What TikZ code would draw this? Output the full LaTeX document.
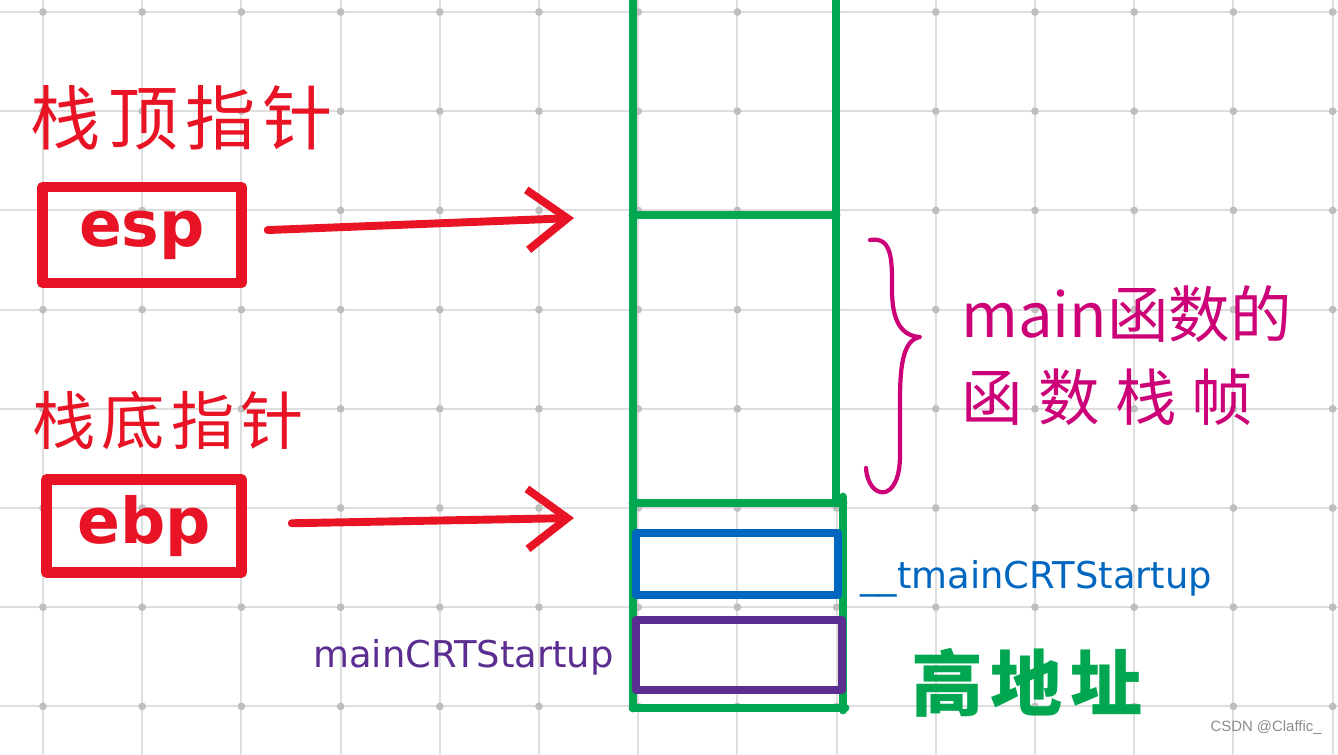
\documentclass[tikz,border=0pt]{standalone}
\usepackage{fontspec}
\setmainfont{DejaVu Sans}
\newfontfamily\cjk{Noto Sans CJK SC}
\newfontfamily\cjkwide[LetterSpace=10]{Noto Sans CJK SC}
\newfontfamily\cjkspread[LetterSpace=25]{Noto Sans CJK SC}
\newfontfamily\marksans{Liberation Sans}
\usepackage{tikz}
\usetikzlibrary{arrows.meta,positioning}
\definecolor{penred}{RGB}{232,19,36}
\definecolor{pengreen}{RGB}{0,166,80}
\definecolor{penblue}{RGB}{0,103,192}
\definecolor{penpurple}{RGB}{92,45,145}
\definecolor{penpink}{RGB}{204,0,119}
\definecolor{gridgray}{RGB}{222,222,222}
\definecolor{dotgray}{RGB}{190,190,190}

\begin{document}
\begin{tikzpicture}[line cap=round,line join=round,>=stealth
  ,x=0.02cm,y=-0.02cm
  ,regbox/.style={draw=penred,line width=6pt,inner sep=0pt,text=penred
    ,font=\fontsize{36}{40}\selectfont\bfseries}
  ,ptr/.style={draw=penred,line width=4.5pt
    ,-{Straight Barb[length=0.8cm,width=1.2cm]}}
  ,stackline/.style={draw=pengreen,line width=5pt}
  ,cellbox/.style={line width=4.5pt}
  ,handcn/.style={inner sep=0pt,text=penred,font=\cjkwide\fontsize{40}{44}\selectfont}
  ,fname/.style={inner sep=0pt,font=\fontsize{21}{24}\selectfont}]
  \useasboundingbox (0,0) rectangle (1338,754);
  \clip (0,0) rectangle (1338,754);
  \fill[white] (0,0) rectangle (1338,754);
  \foreach \x in {0,...,13}
  \draw[gridgray,line width=1.1pt] ({43+99.2*\x},0) -- ({43+99.2*\x},754);
  \foreach \y in {0,...,7}
  \draw[gridgray,line width=1.1pt] (0,{12+99.2*\y}) -- (1338,{12+99.2*\y});
  \foreach \x in {0,...,13}
  \foreach \y in {0,...,7}
  \fill[dotgray] ({43+99.2*\x},{12+99.2*\y}) circle[radius=2.2pt];
  \draw[stackline] (633,-10) -- (633,708);
  \draw[stackline] (836,-10) -- (836,503);
  \draw[stackline] (633,215) -- (836,215);
  \draw[stackline] (633,503) -- (843,503);
  \draw[stackline] (843,497) -- (843,710);
  \draw[stackline] (633,708) -- (845,708);
  \draw[cellbox,penblue] (636,533) rectangle (838,595);
  \draw[cellbox,penpurple] (636,620) rectangle (842,690);
  \node[regbox,minimum width=3.98cm,minimum height=1.92cm] (esp) at (142,235) {\raisebox{-4pt}{esp}};
  \node[regbox,minimum width=3.9cm,minimum height=1.86cm] (ebp) at (144,526) {ebp};
  \node[handcn] (topname) at (182,118) {栈顶指针};
  \node[handcn,font=\cjkwide\fontsize{36}{40}\selectfont] (basename) at (168,420) {栈底指针};
  \coordinate (espTip) at (574,218);
  \coordinate (ebpTip) at (574,518);
  \draw[ptr,shorten <=0.42cm] (esp) -- (espTip);
  \draw[ptr,shorten <=0.9cm] (ebp) -- (ebpTip);
  \draw[penpink,line width=2.4pt] (870,240) .. controls (893,236) and (892,262) .. (892,290)
  .. controls (892,322) and (902,336) .. (920,337)
  .. controls (904,340) and (900,362) .. (900,400) -- (900,455)
  .. controls (900,505) and (868,500) .. (866,468);
  \node[anchor=west,inner sep=0pt,text=penpink,font=\cjk\fontsize{35}{38}\selectfont] (frameA) at (961,314) {main函数的};
  \node[anchor=west,inner sep=0pt,text=penpink,font=\cjkspread\fontsize{35}{38}\selectfont] (frameB) at (961,397) {函数栈帧};
  \node[fname,anchor=base west,text=penblue] (tmain) at (860,588) {\_\_tmainCRTStartup};
  \node[fname,anchor=base east,text=penpurple] (crt) at (614,667) {mainCRTStartup};
  \node[inner sep=0pt,text=pengreen,font=\cjkwide\bfseries\fontsize{41}{44}\selectfont] (highaddr) at (1027,683) {高地址};
  \node[anchor=base east,inner sep=0pt,text=black!45,font=\marksans\fontsize{8.5}{10}\selectfont] (mark) at (1322,731) {CSDN @Claffic\_};
\end{tikzpicture}
\end{document}
